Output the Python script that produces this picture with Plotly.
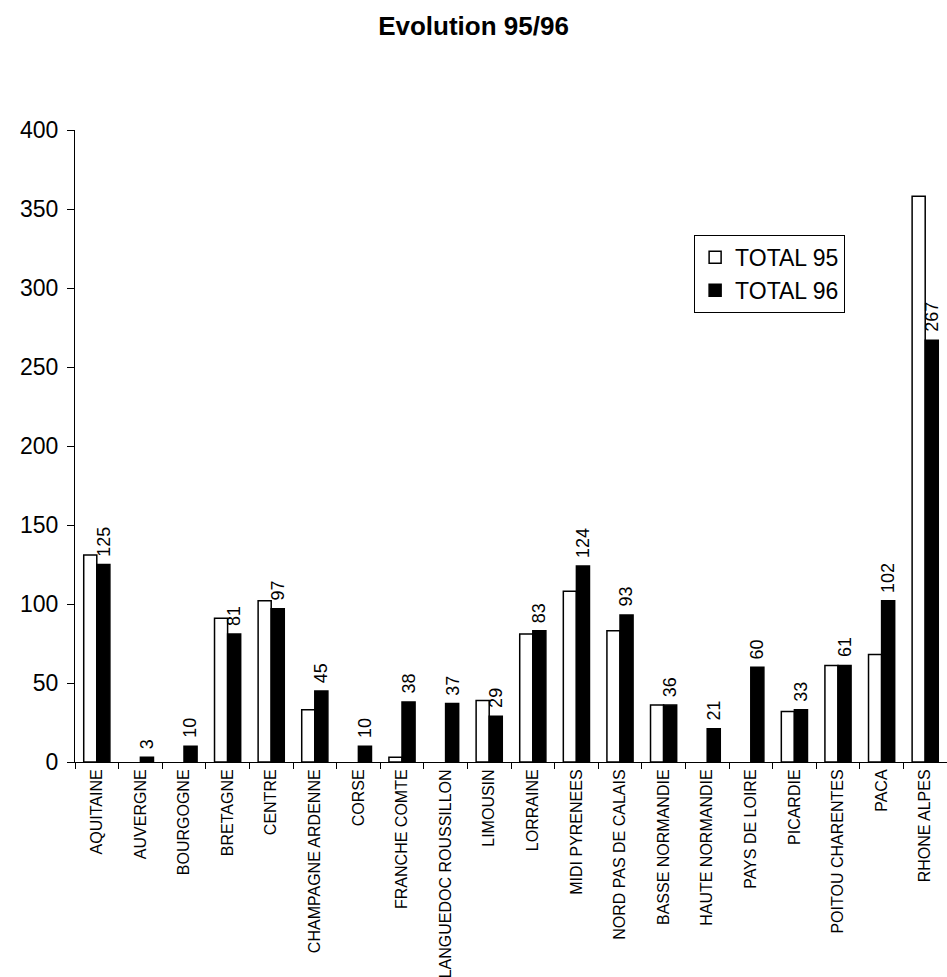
import plotly.graph_objects as go

regions = [
    "AQUITAINE", "AUVERGNE", "BOURGOGNE", "BRETAGNE", "CENTRE",
    "CHAMPAGNE ARDENNE", "CORSE", "FRANCHE COMTE", "LANGUEDOC ROUSSILLON",
    "LIMOUSIN", "LORRAINE", "MIDI PYRENEES", "NORD PAS DE CALAIS",
    "BASSE NORMANDIE", "HAUTE NORMANDIE", "PAYS DE LOIRE", "PICARDIE",
    "POITOU CHARENTES", "PACA", "RHONE ALPES",
]
# None = no 1995 figure for the region
total_95 = [131, None, None, 91, 102, 33, None, 3, None, 39, 81, 108, 83, 36,
            None, None, 32, 61, 68, 358]
total_96 = [125, 3, 10, 81, 97, 45, 10, 38, 37, 29, 83, 124, 93, 36, 21, 60,
            33, 61, 102, 267]
y_ticks = [0, 50, 100, 150, 200, 250, 300, 350, 400]

FONT = "Arial, 'Liberation Sans', sans-serif"

fig = go.Figure()
fig.add_trace(go.Bar(
    name="TOTAL 95", x=regions, y=total_95,
    marker=dict(color="white", line=dict(color="black", width=1.5)),
))
fig.add_trace(go.Bar(
    name="TOTAL 96", x=regions, y=total_96,
    marker=dict(color="black", line=dict(color="black", width=1.5)),
))

# value labels for the 1996 bars, rotated and sitting just above each bar
for region, value in zip(regions, total_96):
    fig.add_annotation(
        x=region, y=value, xref="x", yref="y",
        text=str(value), textangle=-90, showarrow=False,
        xanchor="center", yanchor="bottom", xshift=6.5, yshift=6,
        font=dict(family=FONT, size=18, color="black"),
    )

fig.update_layout(
    width=947, height=977,
    paper_bgcolor="white", plot_bgcolor="white",
    barmode="group", bargap=0.4, bargroupgap=0,
    margin=dict(l=75, r=0, t=130, b=215),
    font=dict(family=FONT, color="black"),
    title=dict(text="<b>Evolution 95/96</b>", x=0.5, xref="container",
               y=0.973, yref="container", yanchor="middle",
               font=dict(family=FONT, size=26, color="black")),
    legend=dict(x=0.71, y=0.834, xanchor="left", yanchor="top",
                bordercolor="black", borderwidth=1, bgcolor="white",
                font=dict(family=FONT, size=23, color="black"),
                itemwidth=30, tracegroupgap=0),
    showlegend=True,
)
fig.update_xaxes(
    showline=True, linecolor="black", linewidth=1,
    ticks="outside", tickson="boundaries", ticklen=6, tickcolor="black",
    tickangle=-90, tickfont=dict(family=FONT, size=16, color="black"),
    showgrid=False, automargin=False,
)
fig.update_yaxes(
    range=[0, 400], tickvals=y_ticks,
    showline=True, linecolor="black", linewidth=1,
    ticks="outside", ticklen=7, tickcolor="black",
    tickfont=dict(family=FONT, size=23, color="black"),
    ticklabelstandoff=4,
    showgrid=False, zeroline=False, automargin=False,
)

fig.write_html("out.html")
